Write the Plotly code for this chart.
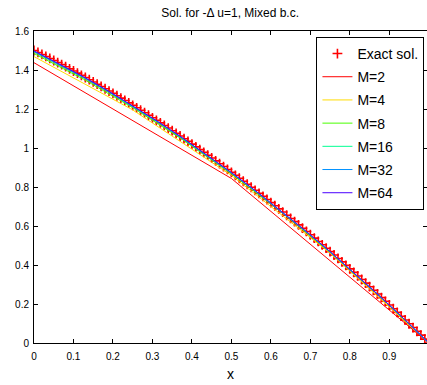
import plotly.graph_objects as go

# ---------------- data ----------------
x_exact = [0.00, 0.01, 0.02, 0.03, 0.04, 0.05, 0.06, 0.07, 0.08, 0.09,
           0.10, 0.11, 0.12, 0.13, 0.14, 0.15, 0.16, 0.17, 0.18, 0.19,
           0.20, 0.21, 0.22, 0.23, 0.24, 0.25, 0.26, 0.27, 0.28, 0.29,
           0.30, 0.31, 0.32, 0.33, 0.34, 0.35, 0.36, 0.37, 0.38, 0.39,
           0.40, 0.41, 0.42, 0.43, 0.44, 0.45, 0.46, 0.47, 0.48, 0.49,
           0.50, 0.51, 0.52, 0.53, 0.54, 0.55, 0.56, 0.57, 0.58, 0.59,
           0.60, 0.61, 0.62, 0.63, 0.64, 0.65, 0.66, 0.67, 0.68, 0.69,
           0.70, 0.71, 0.72, 0.73, 0.74, 0.75, 0.76, 0.77, 0.78, 0.79,
           0.80, 0.81, 0.82, 0.83, 0.84, 0.85, 0.86, 0.87, 0.88, 0.89,
           0.90, 0.91, 0.92, 0.93, 0.94, 0.95, 0.96, 0.97, 0.98, 0.99, 1.00]
y_exact = [1.5, 1.48995, 1.4798, 1.46955, 1.4592, 1.44875, 1.4382, 1.42755, 1.4168, 1.40595,
           1.395, 1.38395, 1.3728, 1.36155, 1.3502, 1.33875, 1.3272, 1.31555, 1.3038, 1.29195,
           1.28, 1.26795, 1.2558, 1.24355, 1.2312, 1.21875, 1.2062, 1.19355, 1.1808, 1.16795,
           1.155, 1.14195, 1.1288, 1.11555, 1.1022, 1.08875, 1.0752, 1.06155, 1.0478, 1.03395,
           1.02, 1.00595, 0.9918, 0.97755, 0.9632, 0.94875, 0.9342, 0.91955, 0.9048, 0.88995,
           0.875, 0.85995, 0.8448, 0.82955, 0.8142, 0.79875, 0.7832, 0.76755, 0.7518, 0.73595,
           0.72, 0.70395, 0.6878, 0.67155, 0.6552, 0.63875, 0.6222, 0.60555, 0.5888, 0.57195,
           0.555, 0.53795, 0.5208, 0.50355, 0.4862, 0.46875, 0.4512, 0.43355, 0.4158, 0.39795,
           0.38, 0.36195, 0.3438, 0.32555, 0.3072, 0.28875, 0.2702, 0.25155, 0.2328, 0.21395,
           0.195, 0.17595, 0.1568, 0.13755, 0.1182, 0.09875, 0.0792, 0.05955, 0.0402, 0.02005, 0.0]

x_m2 = [0.0, 0.5, 1.0]
y_m2 = [1.4375, 0.8438, 0.0]

x_m4 = [0.0, 0.25, 0.5, 0.75, 1.0]
y_m4 = [1.4688, 1.1953, 0.8594, 0.4609, 0.0]

x_m8 = [0.0, 0.125, 0.25, 0.375, 0.5, 0.625, 0.75, 0.875, 1.0]
y_m8 = [1.4844, 1.3535, 1.2070, 1.0449, 0.8672, 0.6738, 0.4648, 0.2402, 0.0]

x_fine = [0.0, 0.0625, 0.125, 0.1875, 0.25, 0.3125, 0.375, 0.4375, 0.5,
          0.5625, 0.625, 0.6875, 0.75, 0.8125, 0.875, 0.9375, 1.0]
y_m16 = [1.4922, 1.4282, 1.3604, 1.2886, 1.2129, 1.1333, 1.0498, 0.9624, 0.8711,
         0.7759, 0.6768, 0.5737, 0.4668, 0.3560, 0.2412, 0.1226, 0.0]
y_m32 = [1.4961, 1.4319, 1.3638, 1.2917, 1.2158, 1.1360, 1.0522, 0.9646, 0.8730,
         0.7776, 0.6782, 0.5750, 0.4678, 0.3567, 0.2417, 0.1228, 0.0]
y_m64 = [1.4980, 1.4337, 1.3655, 1.2933, 1.2173, 1.1373, 1.0535, 0.9657, 0.8740,
         0.7784, 0.6790, 0.5756, 0.4683, 0.3571, 0.2419, 0.1229, 0.0]

series_names = ["M=2", "M=4", "M=8", "M=16", "M=32", "M=64"]
series_x = [x_m2, x_m4, x_m8, x_fine, x_fine, x_fine]
series_y = [y_m2, y_m4, y_m8, y_m16, y_m32, y_m64]
series_colors = ["rgb(255,0,0)", "rgb(255,219,0)", "rgb(73,255,0)",
                 "rgb(0,255,146)", "rgb(0,146,255)", "rgb(73,0,255)"]

x_ticks = [0, 0.1, 0.2, 0.3, 0.4, 0.5, 0.6, 0.7, 0.8, 0.9]
y_ticks = [0, 0.2, 0.4, 0.6, 0.8, 1, 1.2, 1.4, 1.6]

FONT = "Liberation Sans, Arial, sans-serif"

# ---------------- figure ----------------
fig = go.Figure()
fig.add_trace(go.Scatter(
    x=x_exact, y=y_exact, mode="markers", name="Exact sol.",
    legendgroup="g0",
    marker=dict(symbol="cross-thin-open", size=7, color="#ff0000",
                line=dict(width=1.6, color="#ff0000")),
))
for i, (nm, xs, ys, c) in enumerate(zip(series_names, series_x, series_y, series_colors)):
    fig.add_trace(go.Scatter(
        x=xs, y=ys, mode="lines", name=nm, legendgroup="g%d" % (i + 1),
        line=dict(color=c, width=1),
    ))

axis_common = dict(
    showline=True, linecolor="black", linewidth=1, mirror="ticks",
    ticks="inside", ticklen=4, tickwidth=1, tickcolor="black",
    showgrid=False, zeroline=False,
    tickfont=dict(family=FONT, size=10, color="black"),
)

fig.update_layout(
    width=427, height=385,
    margin=dict(l=34, r=0, t=31, b=42),
    paper_bgcolor="white", plot_bgcolor="white",
    font=dict(family=FONT, color="black"),
    title=dict(text="Sol. for -Δ u=1, Mixed b.c.", x=0.539, xanchor="center",
               y=0.968, yanchor="middle",
               font=dict(family=FONT, size=12, color="black")),
    xaxis=dict(range=[0, 0.9955], tickvals=x_ticks,
               ticktext=[str(v) for v in x_ticks],
               title=dict(text="x", font=dict(family=FONT, size=14, color="black"),
                          standoff=8),
               ticklabelstandoff=4,
               **axis_common),
    yaxis=dict(range=[0, 1.6], tickvals=y_ticks,
               ticktext=[str(v) for v in y_ticks],
               ticklabelstandoff=2,
               **axis_common),
    legend=dict(x=0.9935, xanchor="right", y=0.981, yanchor="top",
                bgcolor="white", bordercolor="black", borderwidth=1,
                font=dict(family=FONT, size=14, color="black"),
                traceorder="grouped", tracegroupgap=2,
                itemwidth=30),
    showlegend=True,
)

fig.write_html("out.html")
